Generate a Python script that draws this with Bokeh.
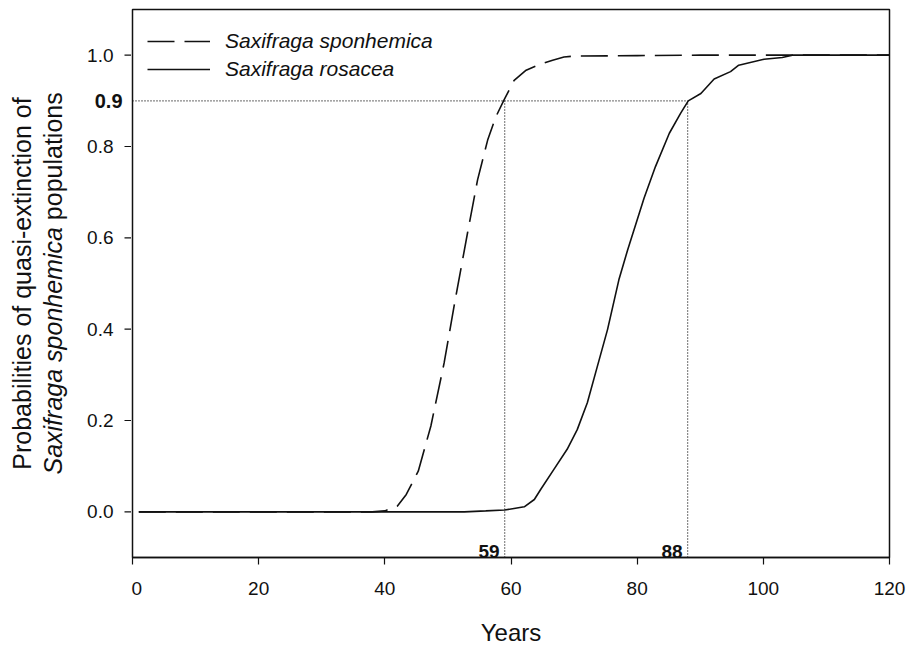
import math
from bokeh.plotting import figure
from bokeh.layouts import row
from bokeh.models import Label, Legend, LegendItem, FixedTicker
from bokeh.core.properties import value
from bokeh.embed import file_html
from bokeh.resources import INLINE

# ---- data ----
sp_years = [1, 38, 40, 42, 43.4, 45.3, 47.3, 49.4, 51.1, 53.1, 54.7, 56.3, 57.6,
            58.9, 60.5, 62.4, 64.2, 66.6, 68.4, 70, 80, 90, 100, 110, 120]
sp_prob = [0, 0, 0.002, 0.013, 0.038, 0.089, 0.188, 0.326, 0.46, 0.61, 0.727,
           0.814, 0.865, 0.902, 0.945, 0.967, 0.978, 0.989, 0.996, 0.998, 0.999,
           1.0, 1.0, 1.0, 1.0]

ro_years = [1, 50, 52.6, 56, 59, 62.1, 63.7, 64.7, 66.8, 68.9, 70.5, 72.1, 73.7,
            75.3, 77.1, 78.5, 81.1, 82.9, 85.1, 86.9, 88.1, 90.1, 92.2, 94.8,
            96.1, 100.1, 103.0, 104.6, 110, 120]
ro_prob = [0, 0, 0.0, 0.002, 0.004, 0.011, 0.027, 0.049, 0.093, 0.137, 0.18,
           0.239, 0.319, 0.399, 0.508, 0.574, 0.687, 0.756, 0.829, 0.873, 0.9,
           0.916, 0.948, 0.964, 0.978, 0.991, 0.995, 1.0, 1.0, 1.0]

series_names = ["Saxifraga sponhemica", "Saxifraga rosacea"]
threshold_prob = 0.9
threshold_years = [59, 88]
x_ticks = [0, 20, 40, 60, 80, 100, 120]
y_ticks = [0.0, 0.2, 0.4, 0.6, 0.8, 1.0]
y_tick_labels = ["0.0", "0.2", "0.4", "0.6", "0.8", "1.0"]
x_title = "Years"
y_title_line1 = "Probabilities of quasi-extinction of"
y_title_line2_italic = "Saxifraga sponhemica"
y_title_line2_rest = "populations"

FONT = "Liberation Sans"
INK = "#111111"
H = 648
TOP, BOTTOM = 9, 91
LEFT_W = 131          # side panel: y ticks, tick labels and title
Y0, Y1 = -0.1, 1.1
TITLE_PX = 25

# ---------------- main plot ----------------
p = figure(width=908 - LEFT_W, height=H, x_range=(0, 120), y_range=(Y0, Y1),
           output_backend="svg", toolbar_location=None,
           min_border_left=1, min_border_right=19, min_border_top=TOP,
           min_border_bottom=BOTTOM)
p.grid.visible = False
p.background_fill_color = "white"
p.border_fill_color = "white"
p.outline_line_color = INK
p.outline_line_width = 1.5
p.yaxis.visible = False

ax = p.xaxis[0]
ax.axis_line_color = INK
ax.axis_line_width = 1.5
ax.major_tick_line_color = INK
ax.major_tick_line_width = 1.2
ax.major_tick_out = 7
ax.major_tick_in = 0
ax.minor_tick_line_color = None
ax.major_label_text_font = FONT
ax.major_label_text_color = INK
ax.ticker = FixedTicker(ticks=x_ticks)
ax.major_label_text_font_size = "19px"
ax.major_label_standoff = 17
ax.axis_label = x_title
ax.axis_label_text_font = FONT
ax.axis_label_text_font_size = "24px"
ax.axis_label_text_font_style = "normal"
ax.axis_label_text_color = INK
ax.axis_label_standoff = 21

# threshold reference lines
p.segment(x0=[0], y0=[threshold_prob], x1=[max(threshold_years)],
          y1=[threshold_prob], line_color=INK, line_width=1.2, line_dash="1 2")
p.segment(x0=threshold_years, y0=[Y0] * len(threshold_years),
          x1=threshold_years, y1=[threshold_prob] * len(threshold_years),
          line_color=INK, line_width=1.2, line_dash="1 2")

r_sp = p.line(sp_years, sp_prob, line_color=INK, line_width=1.6,
              line_dash="27 10")
r_ro = p.line(ro_years, ro_prob, line_color=INK, line_width=1.6)

legend = Legend(items=[LegendItem(label=series_names[0], renderers=[r_sp]),
                       LegendItem(label=series_names[1], renderers=[r_ro])],
                location=(15, 476), margin=0, padding=0, spacing=4,
                glyph_width=63, glyph_height=24, label_height=24,
                label_standoff=15, border_line_color=None,
                background_fill_alpha=0,
                label_text_font=FONT, label_text_font_size="21px",
                label_text_font_style="italic", label_text_color=INK)
p.add_layout(legend)

for yr in threshold_years:
    p.add_layout(Label(x=yr, y=Y0, x_offset=-5, y_offset=6, text=str(yr),
                       text_align="right", text_baseline="alphabetic",
                       text_font=FONT, text_font_size="19px",
                       text_font_style="bold", text_color=INK))

# ---------------- left side panel (y axis ticks, labels, title) ----------------
s = figure(width=LEFT_W, height=H, x_range=(0, LEFT_W), y_range=p.y_range,
           output_backend="svg", toolbar_location=None,
           min_border_left=0, min_border_right=0, min_border_top=TOP,
           min_border_bottom=BOTTOM)
s.axis.visible = False
s.grid.visible = False
s.outline_line_color = None
s.background_fill_color = "white"
s.border_fill_color = "white"

s.segment(x0=[LEFT_W - 7] * len(y_ticks), y0=y_ticks,
          x1=[LEFT_W] * len(y_ticks), y1=y_ticks,
          line_color=INK, line_width=1.2)
s.text(x=[113] * len(y_ticks), y=y_ticks, text=y_tick_labels,
       text_align="right", text_baseline="middle",
       text_font=value(FONT), text_font_size="19px", text_color=INK)
s.text(x=[122], y=[threshold_prob], text=[f"{threshold_prob:.1f}"],
       text_align="right", text_baseline="middle", text_font=value(FONT),
       text_font_size="20px", text_font_style="bold", text_color=INK)

px_per_unit = (H - TOP - BOTTOM) / (Y1 - Y0)
y_mid = (Y0 + Y1) / 2
# italic part ~9.9 em, total line ~15.3 em -> split point above the centre
split = y_mid + (9.9 - 15.29 / 2) * TITLE_PX / px_per_unit
s.text(x=[21], y=[y_mid], text=[y_title_line1], angle=math.pi / 2,
       text_align="center", text_baseline="middle", text_font=value(FONT),
       text_font_size=f"{TITLE_PX}px", text_color=INK)
s.text(x=[52], y=[split], text=[y_title_line2_italic], angle=math.pi / 2,
       text_align="right", text_baseline="middle", text_font=value(FONT),
       text_font_size=f"{TITLE_PX}px", text_font_style="italic", text_color=INK)
s.text(x=[52], y=[split], text=["\u00a0" + y_title_line2_rest], angle=math.pi / 2,
       text_align="left", text_baseline="middle", text_font=value(FONT),
       text_font_size=f"{TITLE_PX}px", text_color=INK)

layout = row(s, p, spacing=0)
open("out.html", "w").write(file_html(layout, INLINE))
